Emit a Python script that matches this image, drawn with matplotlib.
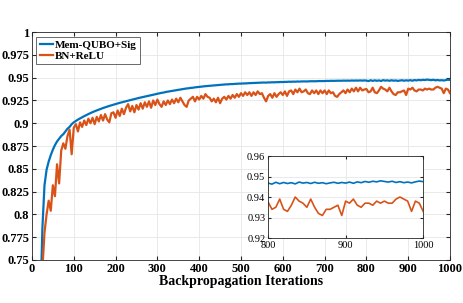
import matplotlib
matplotlib.use("Agg")
import matplotlib.pyplot as plt
import numpy as np

plt.rcParams['font.family'] = ['Liberation Serif', 'DejaVu Serif']

# iteration grid, one sample every 5 iterations
iters = np.arange(0, 1001, 5)

# Mem-QUBO+Sig accuracy
mem_qubo = [
    0.200, 0.300, 0.420, 0.550, 0.700, 0.785, 0.832, 0.849, 0.858, 0.865,
    0.871, 0.876, 0.880, 0.883, 0.886, 0.888, 0.891, 0.894, 0.896, 0.899,
    0.901, 0.9025, 0.904, 0.9053, 0.9066, 0.9078, 0.909, 0.9101, 0.9112, 0.9122,
    0.9132, 0.9141, 0.9150, 0.9159, 0.9167, 0.9175, 0.9183, 0.9190, 0.9197, 0.9204,
    0.9211, 0.9218, 0.9224, 0.9230, 0.9237, 0.9242, 0.9249, 0.9254, 0.9261, 0.9265,
    0.9272, 0.9277, 0.9282, 0.9288, 0.9292, 0.9298, 0.9303, 0.9307, 0.9313, 0.9318,
    0.9324, 0.9328, 0.9334, 0.9337, 0.9343, 0.9347, 0.9351, 0.9355, 0.9360, 0.9363,
    0.9368, 0.9371, 0.9375, 0.9378, 0.9382, 0.9384, 0.9388, 0.9390, 0.9394, 0.9396,
    0.9399, 0.9402, 0.9404, 0.9407, 0.9409, 0.9412, 0.9413, 0.9416, 0.9417, 0.9420,
    0.9421, 0.9423, 0.9424, 0.9427, 0.9427, 0.9430, 0.9430, 0.9432, 0.9433, 0.9435,
    0.9435, 0.9437, 0.9437, 0.9439, 0.9440, 0.9441, 0.9441, 0.9443, 0.9443, 0.9445,
    0.9445, 0.9447, 0.9446, 0.9448, 0.9448, 0.9450, 0.9449, 0.9451, 0.9451, 0.9453,
    0.9452, 0.9454, 0.9454, 0.9456, 0.9455, 0.9457, 0.9456, 0.9458, 0.9457, 0.9459,
    0.9459, 0.9460, 0.9459, 0.9461, 0.9461, 0.9462, 0.9461, 0.9463, 0.9463, 0.9464,
    0.9463, 0.9465, 0.9464, 0.9466, 0.9465, 0.9466, 0.9466, 0.9467, 0.9466, 0.9468,
    0.9467, 0.9468, 0.9467, 0.9469, 0.9468, 0.9469, 0.9468, 0.9470, 0.9468, 0.9470,
    0.9468, 0.9463, 0.9472, 0.9465, 0.9471, 0.9466, 0.9470, 0.9464, 0.9473, 0.9468,
    0.9471, 0.9466, 0.9472, 0.9467, 0.9470, 0.9465, 0.9469, 0.9472, 0.9467, 0.9471,
    0.9468, 0.9473, 0.9467, 0.9474, 0.9470, 0.9476, 0.9472, 0.9477, 0.9474, 0.9479,
    0.9476, 0.9473, 0.9477, 0.9471, 0.9475, 0.9470, 0.9473, 0.9469, 0.9474, 0.9478,
    0.9475,
]

# BN+ReLU accuracy
bn_relu = [
    0.150, 0.250, 0.400, 0.520, 0.620, 0.740, 0.780, 0.800, 0.815, 0.804,
    0.832, 0.820, 0.855, 0.834, 0.870, 0.878, 0.872, 0.886, 0.893, 0.866,
    0.895, 0.899, 0.891, 0.901, 0.896, 0.903, 0.898, 0.905, 0.900, 0.906,
    0.899, 0.907, 0.902, 0.909, 0.903, 0.910, 0.904, 0.901, 0.911, 0.912,
    0.906, 0.914, 0.908, 0.916, 0.910, 0.917, 0.921, 0.913, 0.919, 0.912,
    0.920, 0.915, 0.922, 0.916, 0.923, 0.918, 0.924, 0.917, 0.925, 0.920,
    0.926, 0.921, 0.918, 0.924, 0.920, 0.925, 0.921, 0.926, 0.922, 0.927,
    0.923, 0.928, 0.924, 0.920, 0.918, 0.925, 0.927, 0.929, 0.924, 0.929,
    0.926, 0.930, 0.927, 0.932, 0.929, 0.928, 0.924, 0.927, 0.923, 0.928,
    0.922, 0.927, 0.929, 0.926, 0.930, 0.927, 0.931, 0.928, 0.932, 0.929,
    0.933, 0.930, 0.934, 0.931, 0.934, 0.930, 0.934, 0.931, 0.935, 0.932,
    0.933, 0.928, 0.924, 0.930, 0.932, 0.928, 0.933, 0.929, 0.932, 0.934,
    0.931, 0.935, 0.930, 0.935, 0.936, 0.932, 0.937, 0.934, 0.938, 0.934,
    0.935, 0.937, 0.933, 0.932, 0.936, 0.933, 0.936, 0.932, 0.936, 0.933,
    0.936, 0.932, 0.936, 0.933, 0.934, 0.930, 0.929, 0.932, 0.934, 0.936,
    0.933, 0.937, 0.934, 0.938, 0.935, 0.939, 0.935, 0.939, 0.936, 0.937,
    0.9376, 0.934, 0.935, 0.939, 0.934, 0.933, 0.936, 0.940, 0.938, 0.937,
    0.935, 0.939, 0.935, 0.932, 0.931, 0.934, 0.934, 0.935, 0.936, 0.931,
    0.938, 0.937, 0.939, 0.936, 0.935, 0.937, 0.937, 0.936, 0.938, 0.937,
    0.938, 0.937, 0.937, 0.939, 0.940, 0.939, 0.938, 0.933, 0.938, 0.937,
    0.933,
]

blue = '#0072BD'
orange = '#D95319'

fig = plt.figure(figsize=(4.63, 3.03), dpi=100)
ax = fig.add_axes([0.069, 0.142, 0.903, 0.752])
ax.plot(iters, mem_qubo, color=blue, lw=1.6, label='Mem-QUBO+Sig')
ax.plot(iters, bn_relu, color=orange, lw=1.6, label='BN+ReLU')
ax.set_xlim(0, 1000)
ax.set_ylim(0.75, 1)
ax.set_xticks(np.arange(0, 1001, 100))
yt = np.arange(0.75, 1.0001, 0.025)
ax.set_yticks(yt)
ax.set_yticklabels(['0.75', '0.775', '0.8', '0.825', '0.85', '0.875',
                    '0.9', '0.925', '0.95', '0.975', '1'])
for lab in ax.get_xticklabels() + ax.get_yticklabels():
    lab.set_fontweight('bold')
    lab.set_fontsize(9)
ax.tick_params(direction='in', top=True, right=True, length=3, pad=2,
               color='#262626')
ax.grid(True, color='#e6e6e6', lw=0.6)
ax.set_axisbelow(True)
for s in ax.spines.values():
    s.set_color('#262626')
    s.set_linewidth(0.6)
ax.set_xlabel('Backpropagation Iterations', fontsize=10, fontweight='bold',
              labelpad=0)
leg = ax.legend(loc='upper left', prop={'weight': 'bold', 'size': 8},
                fancybox=False, edgecolor='#262626', handlelength=1.2,
                handletextpad=0.2, borderpad=0.3, labelspacing=0.15,
                borderaxespad=0.4)
leg.get_frame().set_linewidth(0.6)

# zoomed inset for the last 200 iterations
ins = fig.add_axes([0.579, 0.2145, 0.335, 0.2705])
ins.plot(iters, mem_qubo, color=blue, lw=1.2)
ins.plot(iters, bn_relu, color=orange, lw=1.2)
ins.set_xlim(800, 1000)
ins.set_ylim(0.92, 0.96)
ins.set_xticks([800, 900, 1000])
ins.set_yticks([0.92, 0.93, 0.94, 0.95, 0.96])
ins.set_yticklabels(['0.92', '0.93', '0.94', '0.95', '0.96'])
ins.tick_params(direction='in', top=True, right=True, length=2.5, pad=2,
                labelsize=7.5, color='#262626')
ins.grid(True, color='#e6e6e6', lw=0.6)
for s in ins.spines.values():
    s.set_color('#262626')
    s.set_linewidth(0.6)

fig.savefig('out.png', dpi=100)
